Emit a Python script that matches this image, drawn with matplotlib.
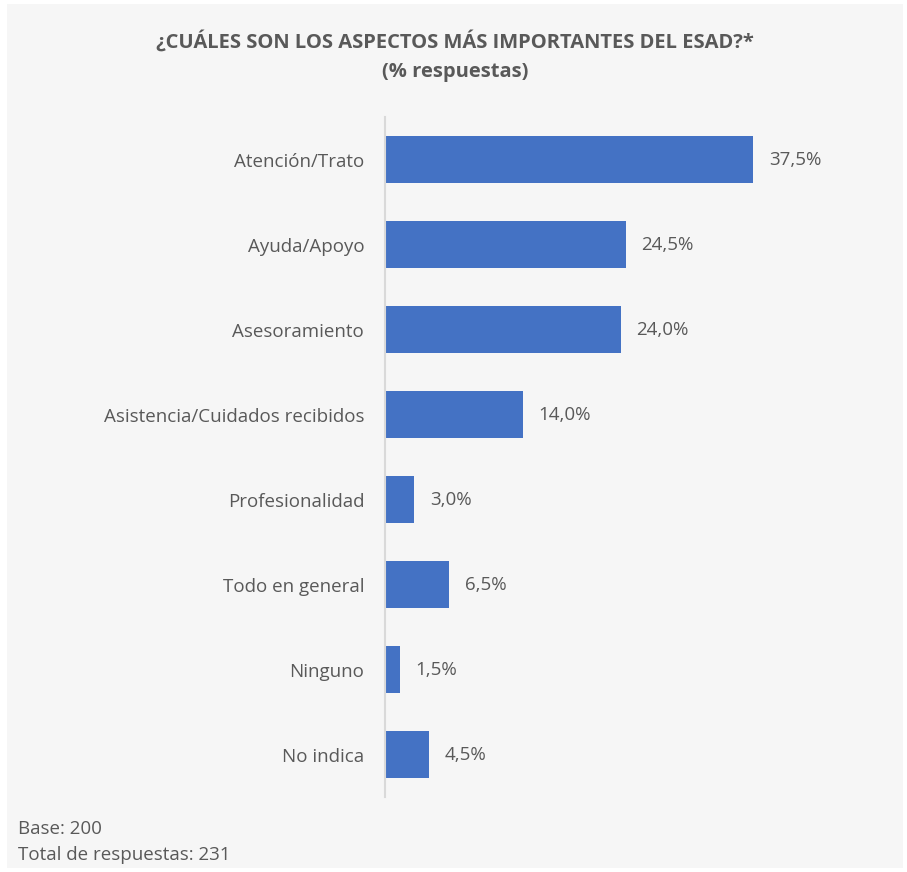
import matplotlib
matplotlib.use("Agg")
import matplotlib.pyplot as plt
import matplotlib.patches as mpatches

plt.rcParams['font.family'] = ['Open Sans', 'DejaVu Sans']

# datos
categorias = ["Atención/Trato", "Ayuda/Apoyo", "Asesoramiento",
              "Asistencia/Cuidados recibidos", "Profesionalidad",
              "Todo en general", "Ninguno", "No indica"]
porcentajes = [37.5, 24.5, 24.0, 14.0, 3.0, 6.5, 1.5, 4.5]
etiquetas = ["37,5%", "24,5%", "24,0%", "14,0%", "3,0%", "6,5%", "1,5%", "4,5%"]

W, H = 907, 872
fig = plt.figure(figsize=(W / 100, H / 100), dpi=100)
fig.patch.set_facecolor("white")

# panel gris de fondo
fondo = fig.add_axes([7 / W, 4 / H, 896 / W, 864 / H], zorder=-1)
fondo.axis("off")
fondo.add_patch(mpatches.Rectangle((0, 0), 1, 1, transform=fondo.transAxes,
                                   facecolor="#f6f6f6", edgecolor="none"))

gris = "#595959"
azul = "#4472c4"
fs = 13.5

ax = fig.add_axes([385 / W, 1 - 797 / H, 442 / W, 680 / H])
ax.set_facecolor("none")
y = list(range(len(categorias)))
ax.barh(y, porcentajes, height=0.555, color=azul)
ax.set_ylim(len(categorias) - 0.5, -0.5)
ax.set_xlim(0, 45)

for yi, v, t in zip(y, porcentajes, etiquetas):
    ax.text(v + 1.6, yi, t, va="center", ha="left", fontsize=fs, color=gris)

ax.set_yticks(y)
ax.set_yticklabels(categorias, fontsize=fs, color=gris)
ax.tick_params(axis="y", length=0, pad=15)
ax.set_xticks([])
for s in ["top", "right", "bottom"]:
    ax.spines[s].set_visible(False)
ax.spines["left"].set_color("#d9d9d9")
ax.spines["left"].set_linewidth(1.5)

fig.text(455 / W, 1 - 42 / H, "¿CUÁLES SON LOS ASPECTOS MÁS IMPORTANTES DEL ESAD?*",
         ha="center", va="center", fontsize=14.5, fontweight="bold", color=gris)
fig.text(455 / W, 1 - 72 / H, "(% respuestas)",
         ha="center", va="center", fontsize=14.5, fontweight="bold", color=gris)

fig.text(18 / W, 1 - 829 / H, "Base: 200", ha="left", va="center", fontsize=fs, color=gris)
fig.text(18 / W, 1 - 855 / H, "Total de respuestas: 231", ha="left", va="center",
         fontsize=fs, color=gris)

fig.savefig("out.png", dpi=100, facecolor=fig.get_facecolor())
